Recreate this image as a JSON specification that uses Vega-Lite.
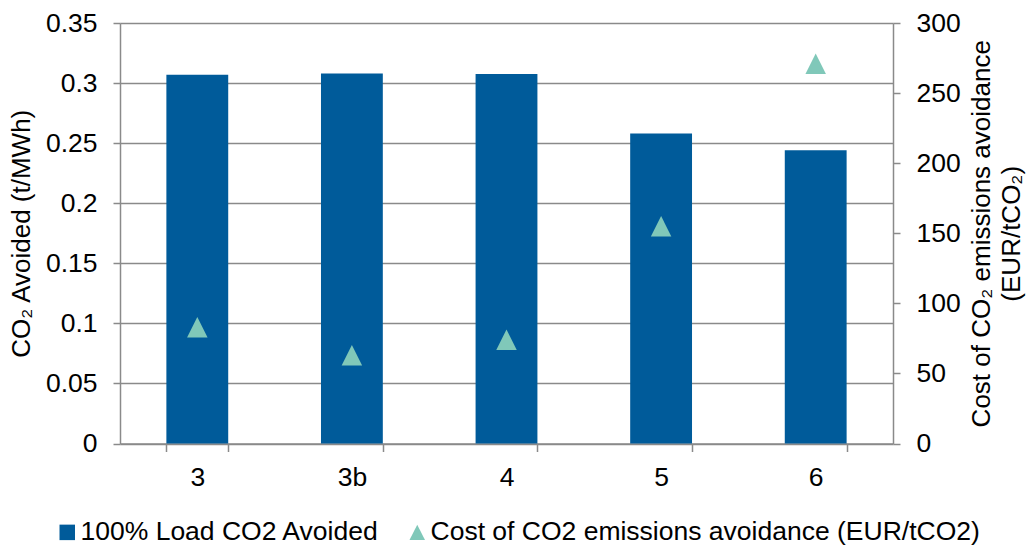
{
  "$schema": "https://vega.github.io/schema/vega-lite/v6.json",
  "width": 773,
  "height": 420.5,
  "autosize": {"type": "none"},
  "padding": {"left": 120, "top": 23, "right": 139, "bottom": 101.5},
  "background": "#ffffff",
  "config": {
    "font": "Liberation Sans",
    "view": {"stroke": null},
    "axis": {
      "labelFont": "Liberation Sans",
      "titleFont": "Liberation Sans",
      "labelFontSize": 26.5,
      "titleFontSize": 26,
      "labelColor": "#000000",
      "titleColor": "#000000",
      "titleFontWeight": "normal",
      "domainColor": "#8a8a8a",
      "tickColor": "#8a8a8a",
      "gridColor": "#8a8a8a",
      "domainWidth": 1.5,
      "tickWidth": 1.5,
      "gridWidth": 1.5,
      "gridOpacity": 1
    },
    "legend": {
      "orient": "none",
      "legendX": -66,
      "legendY": 496,
      "direction": "horizontal",
      "title": null,
      "labelFont": "Liberation Sans",
      "labelFontSize": 26.5,
      "labelColor": "#000000",
      "labelLimit": 1000,
      "labelOffset": 0,
      "symbolSize": 240,
      "symbolStrokeWidth": 0,
      "symbolOpacity": 1,
      "columnPadding": 24,
      "padding": 0
    }
  },
  "data": {
    "values": [
      {"category": "3", "co2": 0.307, "cost": 83},
      {"category": "3b", "co2": 0.308, "cost": 63},
      {"category": "4", "co2": 0.3075, "cost": 74},
      {"category": "5", "co2": 0.258, "cost": 155},
      {"category": "6", "co2": 0.244, "cost": 271}
    ]
  },
  "encoding": {
    "x": {
      "field": "category",
      "type": "nominal",
      "sort": null,
      "scale": {"paddingInner": 0.6, "paddingOuter": 0.3},
      "axis": {
        "title": null,
        "labelAngle": 0,
        "tickBand": "extent",
        "tickSize": 8,
        "labelPadding": 13,
        "grid": false
      }
    }
  },
  "layer": [
    {
      "mark": {"type": "bar"},
      "encoding": {
        "y": {
          "field": "co2",
          "type": "quantitative",
          "scale": {"domain": [0, 0.35], "nice": false, "zero": true},
          "axis": {
            "title": "CO₂ Avoided (t/MWh)",
            "values": [0, 0.05, 0.1, 0.15, 0.2, 0.25, 0.3, 0.35],
            "format": "~g",
            "tickSize": 7,
            "labelPadding": 16,
            "titlePadding": 11,
            "grid": true
          }
        },
        "color": {
          "datum": "100% Load CO2 Avoided",
          "type": "nominal",
          "scale": {
            "domain": ["100% Load CO2 Avoided", "Cost of CO2 emissions avoidance (EUR/tCO2)"],
            "range": ["#005b9a", "#80c8b9"]
          }
        }
      }
    },
    {
      "mark": {"type": "point", "filled": true, "size": 420, "opacity": 1},
      "encoding": {
        "y": {
          "field": "cost",
          "type": "quantitative",
          "scale": {"domain": [0, 300], "nice": false},
          "axis": {
            "orient": "right",
            "title": ["Cost of CO₂ emissions avoidance", "(EUR/tCO₂)"],
            "values": [0, 50, 100, 150, 200, 250, 300],
            "format": "d",
            "tickSize": 7,
            "labelPadding": 16,
            "titlePadding": -22,
            "titleAngle": 270,
            "titleBaseline": "top",
            "titleLineHeight": 30,
            "grid": false
          }
        },
        "color": {
          "datum": "Cost of CO2 emissions avoidance (EUR/tCO2)",
          "type": "nominal"
        },
        "shape": {
          "datum": "Cost of CO2 emissions avoidance (EUR/tCO2)",
          "type": "nominal",
          "scale": {
            "domain": ["100% Load CO2 Avoided", "Cost of CO2 emissions avoidance (EUR/tCO2)"],
            "range": ["square", "M-1,1L1,1L0,-1Z"]
          }
        }
      }
    }
  ],
  "resolve": {"scale": {"y": "independent"}}
}
